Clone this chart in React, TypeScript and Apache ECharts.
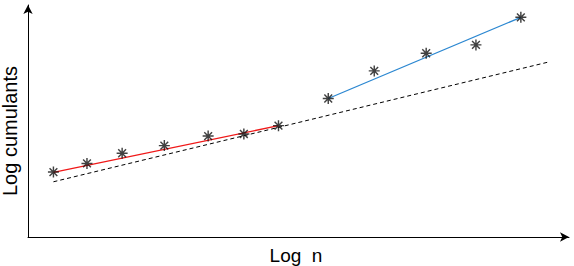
import React, { useEffect, useRef } from "react";
import * as echarts from "echarts";

// Measured points (log n, log cumulant)
const logN = [0.47, 1.09, 1.74, 2.52, 3.33, 3.99, 4.63, 5.55, 6.40, 7.36, 8.28, 9.11];
const logCumulants = [2.80, 3.17, 3.61, 3.94, 4.35, 4.44, 4.80, 5.97, 7.16, 7.92, 8.28, 9.47];

// Fitted lines (two end points each)
const redFitX = [0.47, 4.63];
const redFitY = [2.79, 4.80];
const blueFitX = [5.55, 9.11];
const blueFitY = [5.97, 9.47];
const dashedFitX = [0.47, 9.60];
const dashedFitY = [2.38, 7.53];

const xLabel = "Log  n";
const yLabel = "Log cumulants";

const ASTERISK =
  "path://M8.7 0H11.3V20H8.7Z M0 8.7H20V11.3H0Z M3.85 2.01L17.99 16.15L16.15 17.99L2.01 3.85Z M16.15 2.01L17.99 3.85L3.85 17.99L2.01 16.15Z";

const pairs = (xs: number[], ys: number[]) => xs.map((x, i) => [x, ys[i]]);

export default function App() {
  const ref = useRef<HTMLDivElement>(null);
  useEffect(() => {
    if (!ref.current) return;
    const chart = echarts.init(ref.current, null, { renderer: "svg" });
    chart.setOption({
      animation: false,
      backgroundColor: "#ffffff",
      grid: { left: 28, right: 5, top: 5, bottom: 29 },
      xAxis: {
        type: "value",
        min: 0,
        max: 10,
        axisLine: {
          lineStyle: { color: "#000", width: 1 },
          symbol: ["none", "arrow"],
          symbolSize: [7, 9],
        },
        axisTick: { show: false },
        axisLabel: { show: false },
        splitLine: { show: false },
      },
      yAxis: {
        type: "value",
        min: 0,
        max: 10,
        axisLine: {
          show: true,
          lineStyle: { color: "#000", width: 1 },
          symbol: ["none", "arrow"],
          symbolSize: [7, 9],
        },
        axisTick: { show: false },
        axisLabel: { show: false },
        splitLine: { show: false },
      },
      graphic: [
        {
          type: "text",
          x: 10,
          y: 131,
          rotation: Math.PI / 2,
          style: {
            text: yLabel,
            fill: "#000",
            font: '20px "Liberation Sans", Arial, sans-serif',
            align: "center",
            verticalAlign: "middle",
          },
        },
        {
          type: "text",
          x: 296,
          y: 255,
          style: {
            text: xLabel,
            fill: "#000",
            font: '19px "Liberation Sans", Arial, sans-serif',
            align: "center",
            verticalAlign: "middle",
          },
        },
      ],
      series: [
        {
          type: "line",
          data: pairs(dashedFitX, dashedFitY),
          showSymbol: false,
          lineStyle: { color: "#000", width: 1, type: [4, 3] },
          z: 1,
        },
        {
          type: "line",
          data: pairs(redFitX, redFitY),
          showSymbol: false,
          lineStyle: { color: "#f01818", width: 1.3 },
          z: 2,
        },
        {
          type: "line",
          data: pairs(blueFitX, blueFitY),
          showSymbol: false,
          lineStyle: { color: "#2b87d1", width: 1.3 },
          z: 2,
        },
        {
          type: "scatter",
          data: pairs(logN, logCumulants),
          symbol: ASTERISK,
          symbolSize: 11,
          itemStyle: { color: "#111" },
          z: 3,
        },
      ],
    });
    return () => chart.dispose();
  }, []);
  return (
    <div
      ref={ref}
      style={{ position: "fixed", left: 0, top: 0, width: 574, height: 266 }}
    />
  );
}
